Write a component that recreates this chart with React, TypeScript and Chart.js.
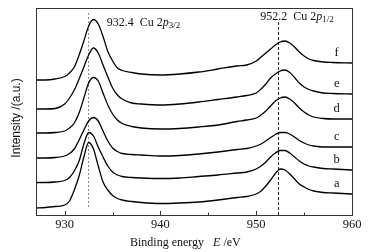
import React, { useEffect, useRef } from "react";
import { Chart, registerables } from "chart.js";

Chart.register(...registerables);

// Binding energy (eV)
const energies = [
  927, 928, 929, 930, 930.5, 931, 931.5, 932, 932.5, 933, 933.5, 934, 934.5, 935, 935.5,
  936, 937, 938, 940, 942, 944, 946, 948, 949, 950, 950.5, 951, 951.5, 952, 952.5, 953,
  953.5, 954, 954.5, 955, 955.5, 956, 957, 958, 960,
];

// Intensity (a.u., offset curves)
const seriesA = [
  7, 7.5, 8.5, 10, 14, 25, 39, 58, 72.5, 66, 49, 33, 25, 19.5, 16.5, 15, 13.5, 12.5, 11.5, 12,
  13, 15, 17.5, 18.5, 21, 24, 29, 35, 41.5, 46, 45, 41, 36, 31, 28, 25.5, 24, 22.5, 22, 21,
];
const seriesB = [
  32.5, 32.5, 33, 34.5, 37.5, 44, 54, 71, 82.5, 79, 68, 58, 49, 43, 40, 38.5, 37.5, 37, 36.5,
  37, 38.5, 40, 42, 43, 46, 49, 53, 58, 62, 64.5, 64.5, 62, 58, 54, 51, 49, 48, 46.5, 46, 45,
];
const seriesC = [
  57, 57, 57.5, 59, 61.5, 66, 75, 85, 94, 97.5, 94, 84, 74, 67, 63.5, 61.5, 60.5, 60, 59, 59.5,
  61, 63, 65.5, 66.5, 69, 71, 74, 77.5, 80.5, 82.5, 82.5, 81, 78, 74.5, 72, 70, 69, 68, 68, 68,
];
const seriesD = [
  82, 82, 82.5, 84, 87, 92, 102, 117, 132, 137.5, 134, 122, 110, 101, 95, 91.5, 88.5, 87, 86,
  86.5, 88, 90, 93.5, 95, 97, 100, 104, 109, 114, 117, 118, 116, 112, 107, 103, 100, 98, 96.5,
  96, 96,
];
const seriesE = [
  106, 106, 106.5, 111, 117, 125, 136, 148, 160, 167, 162, 150, 138, 127, 120, 116, 112, 111,
  110, 111, 113, 115.5, 118, 119.5, 122, 126, 131, 137, 141, 144, 145, 142.5, 137.5, 132, 128,
  125.5, 124, 122, 121.5, 121,
];
const seriesF = [
  135, 135, 136, 138.5, 142, 148, 160, 174, 189, 195.5, 191, 178.5, 163.5, 154, 147, 144.5,
  142.5, 141, 140, 141, 143, 146, 149, 150, 154, 158, 162, 166, 170, 173, 174, 172, 168, 163,
  159, 156, 154.5, 153, 152.5, 152,
];

const seriesNames = ["a", "b", "c", "d", "e", "f"];
const seriesValues = [seriesA, seriesB, seriesC, seriesD, seriesE, seriesF];

const xTicks = [930, 940, 950, 960];
const xMinorTicks = [935, 945, 955];
const peakPositions = [932.4, 952.2];
const peakLabels = [
  { value: "932.4", sub: "3/2" },
  { value: "952.2", sub: "1/2" },
];

const X_MIN = 927;
const X_MAX = 960;
const Y_MIN = 0;
const Y_MAX = 207;
const LABEL_ENERGY = 958.4;
const LABEL_OFFSET = 10.5;

const SERIF = '"Liberation Serif", "Times New Roman", serif';
const SANS = '"Liberation Sans", Arial, sans-serif';

function drawRich(
  ctx: CanvasRenderingContext2D,
  parts: { text: string; font: string; dy?: number }[],
  x: number,
  baseline: number
) {
  let cx = x;
  ctx.textBaseline = "alphabetic";
  ctx.textAlign = "left";
  for (const p of parts) {
    ctx.font = p.font;
    ctx.fillText(p.text, cx, baseline + (p.dy || 0));
    cx += ctx.measureText(p.text).width;
  }
}

const decorations = {
  id: "decorations",
  beforeDatasetsDraw(chart: any) {
    const { ctx, chartArea: ca, scales } = chart;
    const xs = scales.x;
    ctx.save();
    ctx.lineWidth = 1;
    // left peak line: grey dotted
    const p1 = Math.round(xs.getPixelForValue(peakPositions[0])) + 0.5;
    ctx.strokeStyle = "#8a8a8a";
    ctx.setLineDash([2, 2]);
    ctx.beginPath();
    ctx.moveTo(p1, ca.top + 5);
    ctx.lineTo(p1, ca.bottom - 6);
    ctx.stroke();
    // right peak line: dark dashed
    const p2 = Math.round(xs.getPixelForValue(peakPositions[1])) + 1.5;
    ctx.strokeStyle = "#222";
    ctx.setLineDash([3, 2]);
    ctx.beginPath();
    ctx.moveTo(p2, ca.top + 14);
    ctx.lineTo(p2, ca.bottom);
    ctx.stroke();
    ctx.restore();
  },
  afterDraw(chart: any) {
    const { ctx, chartArea: ca, scales } = chart;
    const xs = scales.x;
    const ys = scales.y;
    ctx.save();
    // frame
    ctx.setLineDash([]);
    ctx.strokeStyle = "#333";
    ctx.lineWidth = 1;
    ctx.strokeRect(
      Math.round(ca.left) + 0.5,
      Math.round(ca.top) + 0.5,
      Math.round(ca.right - ca.left),
      Math.round(ca.bottom - ca.top)
    );
    // inward ticks
    const bottom = Math.round(ca.bottom);
    ctx.beginPath();
    for (const t of xTicks) {
      const px = Math.round(xs.getPixelForValue(t)) + 0.5;
      ctx.moveTo(px, bottom);
      ctx.lineTo(px, bottom - 4);
    }
    for (const t of xMinorTicks) {
      const px = Math.round(xs.getPixelForValue(t)) + 0.5;
      ctx.moveTo(px, bottom);
      ctx.lineTo(px, bottom - 2.5);
    }
    ctx.stroke();

    ctx.fillStyle = "#111";
    // series labels
    ctx.font = `12.5px ${SERIF}`;
    ctx.textAlign = "center";
    ctx.textBaseline = "middle";
    seriesValues.forEach((vals, i) => {
      const last = vals[vals.length - 1];
      ctx.fillText(
        seriesNames[i],
        xs.getPixelForValue(LABEL_ENERGY),
        ys.getPixelForValue(last + LABEL_OFFSET)
      );
    });

    // peak annotations
    const main = `12px ${SERIF}`;
    const ital = `italic 12px ${SERIF}`;
    const sub = `9px ${SERIF}`;
    drawRich(
      ctx,
      [
        { text: `${peakLabels[0].value}  Cu 2`, font: main },
        { text: "p", font: ital },
        { text: peakLabels[0].sub, font: sub, dy: 2 },
      ],
      xs.getPixelForValue(peakPositions[0]) + 19,
      ca.top + 18
    );
    drawRich(
      ctx,
      [
        { text: `${peakLabels[1].value}  Cu 2`, font: main },
        { text: "p", font: ital },
        { text: peakLabels[1].sub, font: sub, dy: 2 },
      ],
      xs.getPixelForValue(peakPositions[1]) - 17,
      ca.top + 12
    );

    // x title
    drawRich(
      ctx,
      [
        { text: "Binding energy   ", font: main },
        { text: "E", font: ital },
        { text: " /eV", font: main },
      ],
      130,
      246
    );

    // y title
    ctx.save();
    ctx.translate(17, 118);
    ctx.rotate(-Math.PI / 2);
    ctx.font = `12px ${SANS}`;
    ctx.textAlign = "center";
    ctx.textBaseline = "middle";
    ctx.fillText("Intensity /(a.u.)", 0, 0);
    ctx.restore();

    ctx.restore();
  },
};

export default function App() {
  const ref = useRef<HTMLCanvasElement | null>(null);

  useEffect(() => {
    if (!ref.current) return;
    const chart = new Chart(ref.current, {
      type: "line",
      data: {
        datasets: seriesValues.map((vals, i) => ({
          label: seriesNames[i],
          data: energies.map((e, j) => ({ x: e, y: vals[j] })),
          borderColor: "#000",
          borderWidth: 1.3,
          pointRadius: 0,
          fill: false,
          cubicInterpolationMode: "monotone" as const,
        })),
      },
      options: {
        animation: false,
        responsive: false,
        devicePixelRatio: 1,
        layout: { padding: { left: 36, right: 17, top: 8, bottom: 0 } },
        plugins: {
          legend: { display: false },
          tooltip: { enabled: false },
          title: { display: false },
        },
        scales: {
          x: {
            type: "linear",
            min: X_MIN,
            max: X_MAX,
            afterBuildTicks: (scale: any) => {
              scale.ticks = xTicks.map((v) => ({ value: v }));
            },
            afterFit: (scale: any) => {
              scale.height = 37;
            },
            grid: { display: false, drawTicks: false },
            border: { display: false },
            ticks: {
              font: { family: SERIF, size: 12.5 },
              color: "#111",
              padding: 2,
              maxRotation: 0,
              autoSkip: false,
            },
          },
          y: {
            type: "linear",
            min: Y_MIN,
            max: Y_MAX,
            display: false,
          },
        },
      },
      plugins: [decorations],
    });
    return () => chart.destroy();
  }, []);

  return (
    <div style={{ position: "fixed", left: 0, top: 0, width: 369, height: 252, background: "#fff" }}>
      <canvas ref={ref} width={369} height={252} style={{ display: "block" }} />
    </div>
  );
}
